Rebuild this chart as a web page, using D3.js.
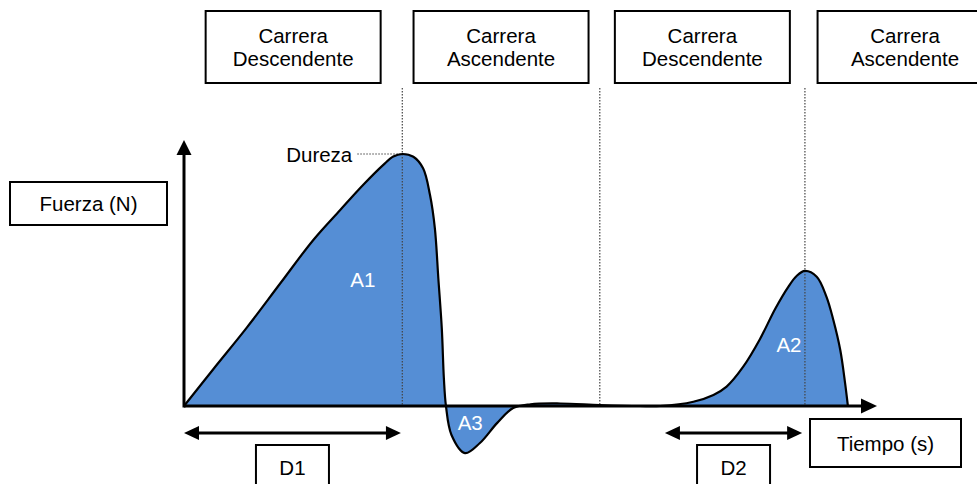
<!DOCTYPE html>
<html>
<head>
<meta charset="utf-8">
<script src="https://cdn.jsdelivr.net/npm/d3@7"></script>
<style>
  body { margin: 0; background: #fff; }
  text { font-family: "Liberation Sans", Arial, sans-serif; font-size: 20.5px; }
</style>
</head>
<body>
<svg id="chart" width="977" height="484"></svg>
<script>
// curva fuerza-tiempo
var tiempo = [0, 0.425, 0.906, 1.385, 1.866, 2.251, 2.587, 2.876, 3.02, 3.15, 3.31, 3.45, 3.55, 3.62, 3.67, 3.72, 3.75, 3.78,
              3.86, 4.055, 4.27, 4.52, 4.75, 5.0, 5.43, 6.0, 6.58, 6.87,
              7.35, 7.64, 7.83, 8.07, 8.31, 8.53, 8.72, 8.84, 8.96, 9.13, 9.27, 9.37, 9.47, 9.54, 9.58];
var fuerza = [0, 14.7, 31.1, 48.5, 65.9, 77.7, 87.8, 95.7, 99.0, 100, 98.9, 94.3, 83.7, 70.5, 50.7, 30.8, 11.0, 0,
              -11.5, -18.7, -14.7, -6.7, -0.8, 0.7, 1.0, 0.4, 0, 0,
              1.7, 4.4, 7.7, 15.6, 26.5, 38.5, 47.3, 51.6, 53.6, 51.3, 43.4, 34.1, 22.2, 9.0, 0];

// fases del ensayo
var fases = [["Carrera", "Descendente"], ["Carrera", "Ascendente"], ["Carrera", "Descendente"], ["Carrera", "Ascendente"]];
var limitesFase = [0, 3.15, 6.0, 8.96, 11.85];

// areas
var areas = ["A1", "A2", "A3"];
var areasT = [2.58, 8.73, 4.13];
var areasF = [47.2, 21.4, -9.5];

// duraciones
var duraciones = ["D1", "D2"];
var durDesde = [0, 6.94];
var durHasta = [3.13, 8.92];

var durezaT = 3.15, durezaF = 100;

var datos = tiempo.map(function (t, i) { return { t: t, f: fuerza[i] }; });

var svg = d3.select("#chart");

var x = d3.scaleLinear().domain([0, 10]).range([184, 877]);
var y = d3.scaleLinear().domain([0, 100]).range([406, 154]);

var curva = d3.curveCatmullRom.alpha(0.5);

// relleno
var area = d3.area()
    .x(d => x(d.t))
    .y0(y(0))
    .y1(d => y(d.f))
    .curve(curva);

svg.append("path")
    .datum(datos)
    .attr("fill", "#558ed5")
    .attr("d", area);

// lineas punteadas de fase
svg.selectAll(".fase")
    .data(limitesFase.slice(1, 4))
    .enter().append("line")
    .attr("class", "fase")
    .attr("x1", d => x(d)).attr("x2", d => x(d))
    .attr("y1", 88).attr("y2", y(0))
    .attr("stroke", "#444")
    .attr("stroke-width", 1.2)
    .attr("stroke-dasharray", "1.5,1.5");

svg.append("line")
    .attr("x1", x(durezaT) - 45).attr("x2", x(durezaT))
    .attr("y1", y(durezaF)).attr("y2", y(durezaF))
    .attr("stroke", "#444")
    .attr("stroke-width", 1.2)
    .attr("stroke-dasharray", "1.5,1.5");

// ejes
svg.append("line")
    .attr("x1", x(0)).attr("x2", x(0))
    .attr("y1", y(0) + 1.5).attr("y2", 154)
    .attr("stroke", "#000").attr("stroke-width", 3);
svg.append("path")
    .attr("d", "M" + (x(0) - 7.5) + ",155L" + (x(0) + 7.5) + ",155L" + x(0) + ",140Z")
    .attr("fill", "#000");

svg.append("line")
    .attr("x1", x(0)).attr("x2", x(10) - 15)
    .attr("y1", y(0)).attr("y2", y(0))
    .attr("stroke", "#000").attr("stroke-width", 3);
svg.append("path")
    .attr("d", "M" + (x(10) - 16) + "," + (y(0) - 7.5) + "L" + (x(10) - 16) + "," + (y(0) + 7.5) + "L" + x(10) + "," + y(0) + "Z")
    .attr("fill", "#000");

// curva
var linea = d3.line()
    .x(d => x(d.t))
    .y(d => y(d.f))
    .curve(curva);

svg.append("path")
    .datum(datos)
    .attr("fill", "none")
    .attr("stroke", "#000")
    .attr("stroke-width", 2.2)
    .attr("d", linea);

// etiquetas de area
svg.selectAll(".area-label")
    .data(areas)
    .enter().append("text")
    .attr("class", "area-label")
    .attr("x", (d, i) => x(areasT[i]))
    .attr("y", (d, i) => y(areasF[i]))
    .attr("text-anchor", "middle")
    .attr("fill", "#fff")
    .text(d => d);

svg.append("text")
    .attr("x", x(durezaT) - 50)
    .attr("y", y(durezaF) + 7.5)
    .attr("text-anchor", "end")
    .text("Dureza");

// cajas de fase
var cajas = svg.selectAll(".caja")
    .data(fases)
    .enter().append("g")
    .attr("class", "caja")
    .attr("transform", (d, i) => "translate(" + (x(limitesFase[i]) + x(limitesFase[i + 1])) / 2 + ",47)");

cajas.append("rect")
    .attr("x", -87.5).attr("y", -36)
    .attr("width", 175).attr("height", 72)
    .attr("fill", "#fff")
    .attr("stroke", "#000")
    .attr("stroke-width", 2);

cajas.append("text")
    .attr("text-anchor", "middle")
    .selectAll("tspan")
    .data(d => d)
    .enter().append("tspan")
    .attr("x", 0)
    .attr("y", (d, i) => i === 0 ? -4.5 : 18.5)
    .text(d => d);

// flechas de duracion
function punta(px, py, dir) {
    return "M" + px + "," + py + "L" + (px - dir * 15) + "," + (py - 7) + "L" + (px - dir * 15) + "," + (py + 7) + "Z";
}

duraciones.forEach(function (nombre, i) {
    var a = x(durDesde[i]), b = x(durHasta[i]), yy = 433;
    svg.append("line")
        .attr("x1", a + 10).attr("x2", b - 10)
        .attr("y1", yy).attr("y2", yy)
        .attr("stroke", "#000").attr("stroke-width", 3);
    svg.append("path").attr("d", punta(a, yy, -1)).attr("fill", "#000");
    svg.append("path").attr("d", punta(b, yy, 1)).attr("fill", "#000");

    var c = (a + b) / 2;
    svg.append("rect")
        .attr("x", c - 36.5).attr("y", 445)
        .attr("width", 73).attr("height", 60)
        .attr("fill", "#fff")
        .attr("stroke", "#000")
        .attr("stroke-width", 2);
    svg.append("text")
        .attr("x", c).attr("y", 475)
        .attr("text-anchor", "middle")
        .text(nombre);
});

// titulos de ejes
function caja(x0, y0, w, h, texto) {
    svg.append("rect")
        .attr("x", x0).attr("y", y0)
        .attr("width", w).attr("height", h)
        .attr("fill", "#fff")
        .attr("stroke", "#000")
        .attr("stroke-width", 2);
    svg.append("text")
        .attr("x", x0 + w / 2).attr("y", y0 + h / 2 + 7.5)
        .attr("text-anchor", "middle")
        .text(texto);
}

caja(10, 182, 157, 43, "Fuerza (N)");
caja(810, 419, 151, 48, "Tiempo (s)");
</script>
</body>
</html>
